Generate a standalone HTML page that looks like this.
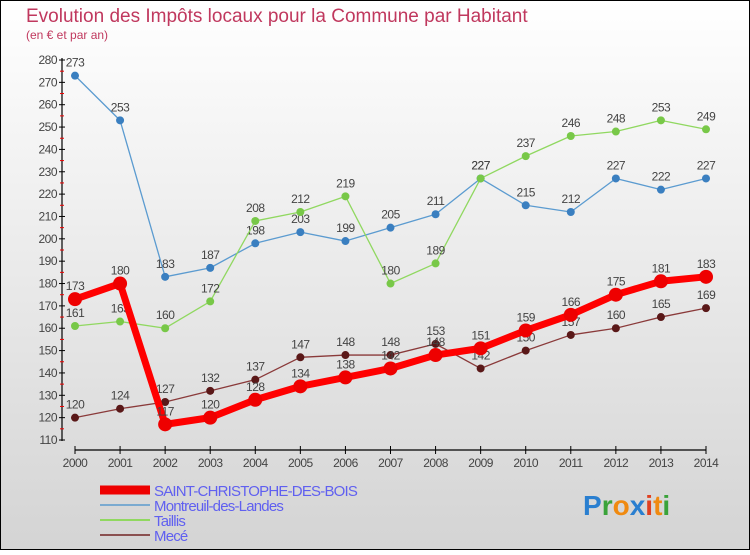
<!DOCTYPE html>
<html><head><meta charset="utf-8"><style>
html,body{margin:0;padding:0}
body{width:750px;height:550px;overflow:hidden;font-family:"Liberation Sans",sans-serif}
</style></head><body>
<svg id="chart" width="750" height="550" xmlns="http://www.w3.org/2000/svg">
<defs><linearGradient id="bg" x1="0" y1="0" x2="0" y2="1"><stop offset="0" stop-color="#ffffff"/><stop offset="1" stop-color="#d4d4d4"/></linearGradient></defs>
<rect x="0.5" y="0.5" width="749" height="549" fill="url(#bg)" stroke="#000"/>
<text x="26" y="22" font-size="19" fill="#c0385e">Evolution des Impôts locaux pour la Commune par Habitant</text>
<text x="26" y="39" font-size="12" fill="#c0385e">(en € et par an)</text>
<g id="axes"></g><g id="series"></g><g id="legend"></g>
<text x="583" y="515" font-size="28" font-weight="bold"><tspan fill="#2a7fd0">P</tspan><tspan fill="#3aa33a">r</tspan><tspan fill="#f08a10">o</tspan><tspan fill="#2a7fd0">x</tspan><tspan fill="#e04020">i</tspan><tspan fill="#f08a10">t</tspan><tspan fill="#3aa33a">i</tspan></text>
</svg>
<script>
const years=[2000,2001,2002,2003,2004,2005,2006,2007,2008,2009,2010,2011,2012,2013,2014];
const yTicks=[110,120,130,140,150,160,170,180,190,200,210,220,230,240,250,260,270,280];
const scb=[173,180,117,120,128,134,138,142,148,151,159,166,175,181,183];
const montreuil=[273,253,183,187,198,203,199,205,211,227,215,212,227,222,227];
const taillis=[161,163,160,172,208,212,219,180,189,227,237,246,248,253,249];
const mece=[120,124,127,132,137,147,148,148,153,142,150,157,160,165,169];
const NS="http://www.w3.org/2000/svg";
const xS=i=>75+i*(706-75)/14;
const yS=v=>440-(v-110)*(380/170);
function mk(tag,attrs,parent){const e=document.createElementNS(NS,tag);for(const k in attrs)e.setAttribute(k,attrs[k]);parent.appendChild(e);return e;}
const axes=document.getElementById('axes');
let a=mk('line',{x1:62,y1:58,x2:62,y2:441,stroke:'#000','stroke-width':1.2},axes);


let b=mk('line',{x1:75,y1:450,x2:706,y2:450,stroke:'#000','stroke-width':1.2},axes);


yTicks.forEach(v=>{
  mk('line',{x1:59,y1:yS(v),x2:65,y2:yS(v),stroke:'#000'},axes);
  if(v<280) mk('line',{x1:60,y1:yS(v+5),x2:64,y2:yS(v+5),stroke:'#e00'},axes);
  const t=mk('text',{x:57,y:yS(v)+4,'font-size':12,'text-anchor':'end',fill:'#444','letter-spacing':'-0.5'},axes);
  t.textContent=v;
  
  
});
years.forEach((y,i)=>{
  mk('line',{x1:xS(i),y1:446,x2:xS(i),y2:454,stroke:'#000'},axes);
  const t=mk('text',{x:xS(i),y:467,'font-size':12,'text-anchor':'middle',fill:'#444','letter-spacing':'-0.5'},axes);
  t.textContent=y;
  
  
});
const S=document.getElementById('series');
function draw(data,color,w,r,name,dot){
  const g=mk('g',{},S);
  
  
  mk('polyline',{points:data.map((v,i)=>xS(i)+','+yS(v)).join(' '),fill:'none',stroke:color,'stroke-width':w,'stroke-linejoin':'round'},g);
  data.forEach((v,i)=>{
    const c=mk('circle',{cx:xS(i),cy:yS(v),r:r,fill:dot},g);
    
    
    const t=mk('text',{x:xS(i),y:yS(v)-9,'font-size':12,'text-anchor':'middle',fill:'#444','letter-spacing':'-0.5'},g);
    t.textContent=v;
    
    
  });
}
draw(montreuil,'#5b9bd0',1.3,4,'montreuil-series','#3a7fc0');
draw(taillis,'#90d860',1.3,4,'taillis-series','#78c848');
draw(mece,'#8a3a3a',1.3,4,'mece-series','#5a1818');
draw(scb,'#ff0000',7,7,'saint-christophe-series','#ee0000');
const L=document.getElementById('legend');
const leg=[['SAINT-CHRISTOPHE-DES-BOIS','#ee0000',9],['Montreuil-des-Landes','#7aaad0',2],['Taillis','#90d860',2],['Mecé','#8a5050',2]];
leg.forEach((l,i)=>{
  const y=494+i*15;
  const g=mk('g',{},L);
  
  
  mk('line',{x1:100,y1:y-4,x2:150,y2:y-4,stroke:l[1],'stroke-width':l[2]},g);
  const t=mk('text',{x:154,y:y+2,'font-size':15,fill:'#6060f0','letter-spacing':'-0.8'},g);
  t.textContent=l[0];
});
</script>
</body></html>
